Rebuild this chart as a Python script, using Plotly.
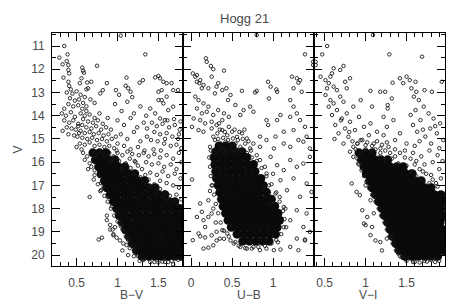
import plotly.graph_objects as go

# ---------------- data ----------------
title_text = "Hogg 21"
x_titles = ["B\u2212V", "U\u2212B", "V\u2212I"]
x_ranges = [[0.2, 1.8], [-0.1, 1.5], [0.37, 1.97]]
x_tickvals = [[0.5, 1, 1.5], [0, 0.5, 1], [0.5, 1, 1.5]]
x_ticktext = [["0.5", "1", "1.5"], ["0", "0.5", "1"], ["0.5", "1", "1.5"]]
v_range = [20.47, 10.44]
v_ticks = [11, 12, 13, 14, 15, 16, 17, 18, 19, 20]

# B-V panel: scattered stars (B-V, V)
bv_field = [
    (1.04, 10.55), (0.35, 11.0), (0.29, 11.5), (0.39, 11.36), (0.33, 11.79), (0.38, 11.65), (0.40, 11.82),
    (0.40, 12.03), (0.41, 12.18), (0.75, 11.85), (1.34, 11.36), (0.57, 11.93), (0.58, 12.06), (0.59, 12.15),
    (0.34, 12.36), (0.40, 12.54), (0.41, 12.72), (0.43, 12.87), (0.56, 12.39), (0.54, 12.6), (0.63, 12.57),
    (0.68, 12.54), (0.64, 12.82), (0.62, 12.87), (0.87, 12.6), (0.82, 12.9), (0.79, 13.04), (1.11, 12.36),
    (1.10, 12.71), (1.13, 12.82), (1.16, 12.97), (1.27, 12.58), (1.31, 12.47), (1.46, 12.35), (1.50, 12.29),
    (1.52, 12.39), (1.56, 12.54), (1.60, 12.6), (1.66, 12.6), (1.50, 12.97), (1.54, 12.9), (1.60, 13.18),
    (1.68, 12.9), (1.74, 12.9), (1.50, 13.33), (1.54, 13.33), (1.56, 13.47), (1.40, 13.69), (1.46, 13.9),
    (1.52, 14.12), (1.58, 14.19), (1.62, 13.76), (1.68, 13.61),
    (1.42, 14.3), (1.48, 14.45), (1.55, 14.35), (1.63, 14.5), (1.70, 14.4), (1.76, 14.6), (1.45, 14.7),
    (1.52, 14.8), (1.60, 14.75), (1.67, 14.9), (1.74, 15.0), (1.41, 15.05), (1.49, 15.1), (1.57, 15.2),
    (1.65, 15.3), (1.72, 15.25), (1.78, 15.4), (1.44, 15.45), (1.53, 15.5), (1.61, 14.2), (1.69, 14.15),
    (1.77, 14.25), (1.36, 14.55), (1.58, 15.0), (1.75, 14.8),
    (0.38, 13.0), (0.45, 13.05), (0.50, 12.95), (0.55, 13.1), (0.60, 13.2), (0.42, 13.25), (0.48, 13.35),
    (0.53, 13.3), (0.58, 13.45), (0.40, 13.5), (0.46, 13.6), (0.52, 13.55), (0.57, 13.7), (0.62, 13.6),
    (0.35, 13.7), (0.67, 13.3), (0.72, 13.45),
    (0.32, 13.9), (0.37, 14.0), (0.43, 13.85), (0.48, 14.05), (0.35, 14.2), (0.41, 14.3), (0.46, 14.2),
    (0.52, 14.35), (0.38, 14.5), (0.44, 14.55), (0.49, 14.6), (0.33, 14.65), (0.40, 14.8), (0.47, 14.85),
    (0.53, 14.75),
    (0.55, 13.9), (0.60, 14.0), (0.66, 13.95), (0.72, 14.1), (0.58, 14.15), (0.64, 14.25), (0.70, 14.3),
    (0.76, 14.2), (0.82, 14.35), (0.52, 14.45), (0.57, 14.4), (0.62, 14.5), (0.68, 14.55), (0.74, 14.45),
    (0.80, 14.6), (0.86, 14.5), (0.55, 14.65), (0.60, 14.75), (0.66, 14.7), (0.71, 14.8), (0.77, 14.75),
    (0.83, 14.85), (0.89, 14.8), (0.51, 14.9), (0.57, 14.95), (0.63, 15.0), (0.69, 14.95), (0.75, 15.05),
    (0.81, 15.0), (0.87, 15.1), (0.93, 15.0), (0.54, 15.2), (0.60, 15.25), (0.66, 15.15), (0.72, 15.3),
    (0.78, 15.25), (0.84, 15.35), (0.90, 15.3), (0.96, 15.4), (1.00, 15.2), (0.56, 15.45), (0.50, 15.35),
    (0.62, 13.8), (0.78, 13.9), (0.88, 14.1), (0.92, 14.6), (0.98, 14.9),
    (0.97, 13.5), (1.05, 13.8), (1.12, 13.4), (1.20, 13.9), (1.28, 13.6), (1.35, 14.0), (1.00, 14.2),
    (1.08, 14.4), (1.16, 14.1), (1.24, 14.5), (1.32, 14.3), (1.04, 14.8), (1.12, 15.0), (1.20, 14.7),
    (1.28, 15.1), (1.36, 14.9), (1.08, 15.3), (1.16, 15.45), (1.25, 15.35), (1.33, 15.5), (1.02, 13.1),
    (1.18, 13.2), (0.98, 12.9),
    (1.32, 15.6), (1.38, 15.75), (1.45, 15.65), (1.52, 15.8), (1.60, 15.7), (1.68, 15.85), (1.75, 15.6),
    (1.35, 16.0), (1.42, 16.1), (1.50, 16.05), (1.57, 16.2), (1.65, 16.1), (1.72, 16.3), (1.78, 16.0),
    (1.40, 16.45), (1.48, 16.55), (1.55, 16.4), (1.62, 16.6), (1.70, 16.5), (1.77, 16.7), (1.52, 16.8),
    (1.60, 16.9), (1.68, 17.0), (1.75, 17.1), (1.72, 17.4), (1.78, 17.6), (1.26, 15.7), (1.22, 16.0),
    (0.64, 16.3), (0.72, 16.56), (0.78, 16.6), (0.66, 17.5), (0.79, 17.25), (0.83, 17.06), (0.87, 18.3),
    (0.87, 18.5), (0.91, 18.7), (0.94, 18.9), (0.97, 18.8), (0.91, 18.9), (0.95, 19.1), (0.77, 19.33),
    (0.81, 19.25), (0.95, 19.15), (0.99, 19.25), (1.03, 19.37), (1.07, 19.5), (1.11, 19.57), (1.13, 19.36),
    (1.06, 19.8), (1.13, 20.0), (1.27, 20.25), (1.31, 20.2), (1.68, 20.4), (1.00, 18.2), (0.93, 17.9),
    (0.88, 17.5), (0.80, 16.9), (1.02, 18.6), (1.06, 18.9), (1.10, 19.2), (1.15, 19.7), (1.20, 20.05),
    (1.45, 20.3), (1.55, 20.28), (1.62, 20.3),
    (0.58, 15.6), (0.63, 15.75), (0.60, 15.9), (0.66, 16.05), (0.70, 15.55), (0.74, 15.7), (0.79, 15.6),
    (0.84, 15.75), (0.90, 15.6), (0.95, 15.75), (1.00, 15.6), (1.06, 15.7), (1.12, 15.55), (1.18, 15.65),
    (0.68, 16.2), (0.72, 16.35), (1.15, 15.85), (1.21, 15.95), (1.25, 16.15), (1.30, 16.3), (1.34, 16.55),
    (1.38, 16.75), (1.45, 16.95), (1.52, 17.15), (1.58, 17.3), (1.64, 17.45), (1.70, 17.7), (0.71, 16.75),
    (0.76, 16.95), (0.80, 17.2), (0.84, 17.45), (0.88, 17.7), (0.92, 18.0), (0.96, 18.3), (1.00, 18.55),
    (1.04, 18.75), (1.08, 19.0), (1.12, 19.25), (1.16, 19.5), (1.20, 19.8), (1.25, 20.05), (1.32, 20.2),
    (1.40, 20.3), (1.50, 20.32), (1.58, 20.3), (1.66, 20.25), (1.74, 20.2),
    (1.02, 15.95), (1.10, 16.05), (1.05, 16.3), (1.16, 16.25), (1.20, 16.5), (1.28, 16.65), (1.32, 16.9),
    (1.40, 17.05), (1.47, 17.25), (1.55, 17.5), (1.62, 17.65), (0.99, 15.5), (0.92, 15.95),
]

# B-V panel: saturated core of the main sequence, rows of (V, [B-V ...])
bv_core = [
    (15.6, [0.70, 0.78, 0.86]),
    (15.9, [0.73, 0.81, 0.89, 0.97]),
    (16.2, [0.77, 0.85, 0.93, 1.01, 1.09]),
    (16.5, [0.80, 0.88, 0.96, 1.04, 1.13, 1.21]),
    (16.8, [0.84, 0.92, 1.00, 1.08, 1.17, 1.25, 1.33]),
    (17.1, [0.87, 0.95, 1.04, 1.12, 1.21, 1.29, 1.38, 1.46]),
    (17.4, [0.91, 0.99, 1.08, 1.16, 1.25, 1.33, 1.42, 1.50, 1.58]),
    (17.7, [0.95, 1.03, 1.12, 1.20, 1.29, 1.37, 1.46, 1.54, 1.63, 1.70]),
    (18.0, [0.99, 1.07, 1.16, 1.24, 1.33, 1.42, 1.50, 1.59, 1.68, 1.76]),
    (18.3, [1.02, 1.10, 1.19, 1.27, 1.36, 1.45, 1.53, 1.62, 1.71, 1.79]),
    (18.6, [1.06, 1.14, 1.23, 1.31, 1.40, 1.49, 1.57, 1.66, 1.75, 1.80]),
    (18.9, [1.10, 1.18, 1.27, 1.35, 1.44, 1.53, 1.61, 1.70, 1.78]),
    (19.2, [1.14, 1.22, 1.31, 1.39, 1.48, 1.57, 1.65, 1.74, 1.80]),
    (19.5, [1.18, 1.26, 1.35, 1.43, 1.52, 1.61, 1.69, 1.78]),
    (19.8, [1.23, 1.31, 1.39, 1.47, 1.56, 1.65, 1.73, 1.80]),
    (20.05, [1.30, 1.38, 1.46, 1.54, 1.62, 1.70, 1.78]),
]

# U-B panel: scattered stars (U-B, V)
ub_field = [
    (0.80, 10.53), (0.18, 11.53), (0.19, 11.68), (0.24, 11.86), (0.27, 12.0), (0.40, 12.06),
    (0.02, 12.18), (0.05, 12.32), (0.07, 12.54), (0.10, 12.6), (0.13, 12.82),
    (0.33, 12.6), (0.38, 12.9), (0.43, 12.82), (0.45, 13.33), (0.48, 13.11),
    (0.62, 12.93), (0.80, 12.93), (0.78, 13.0),
    (0.94, 12.54), (0.97, 12.75), (1.04, 12.87), (1.05, 12.97), (0.95, 13.26),
    (1.23, 12.32), (1.29, 12.39), (1.33, 12.47), (1.25, 12.82), (1.35, 12.97), (1.31, 12.58),
    (1.39, 11.36), (1.49, 11.68), (1.49, 11.82),
    (1.21, 13.33), (1.25, 13.61), (1.29, 13.9), (1.21, 14.05), (1.33, 14.19), (1.39, 14.48), (1.25, 14.62),
    (1.41, 14.9), (1.31, 15.05),
    (0.92, 14.19), (0.94, 14.4), (1.05, 14.19), (1.09, 13.97), (1.13, 14.69), (1.03, 14.9), (0.84, 14.9),
    (0.64, 13.76), (0.72, 13.61), (0.76, 13.83), (0.60, 13.97), (0.54, 13.54),
    (0.05, 13.18), (0.09, 13.33), (0.15, 13.47), (0.21, 13.61), (0.07, 13.69), (0.13, 13.9), (0.19, 13.83),
    (0.27, 13.97), (0.33, 13.76), (0.40, 13.9), (0.03, 14.12), (0.11, 14.19), (0.17, 14.33), (0.25, 14.26),
    (0.31, 14.4), (0.38, 14.19), (0.46, 14.05), (0.01, 14.48), (0.09, 14.62), (0.15, 14.69),
    (0.07, 12.25), (0.11, 12.47), (0.15, 12.68), (0.21, 12.82), (0.29, 13.04), (0.25, 12.32), (0.31, 12.75),
    (0.25, 14.55), (0.32, 14.76), (0.38, 14.62), (0.44, 14.84), (0.50, 14.69), (0.56, 14.91), (0.62, 14.76),
    (0.68, 14.98), (0.29, 15.05), (0.36, 15.2), (0.42, 15.12), (0.48, 15.27), (0.54, 15.2), (0.60, 15.34),
    (0.66, 15.2), (0.72, 15.41), (0.23, 15.34), (0.40, 15.41), (0.52, 15.48), (0.46, 14.48), (0.34, 14.33),
    (0.76, 15.2), (0.84, 15.34), (0.92, 15.05), (1.01, 15.41), (1.13, 15.2), (1.21, 15.34), (1.37, 15.12),
    (1.45, 15.41),
    (0.84, 15.91), (0.97, 15.77), (1.05, 16.13), (1.13, 16.34), (1.21, 15.91), (1.29, 16.2), (1.37, 16.06),
    (1.45, 15.77), (0.92, 16.49), (1.09, 16.78), (1.25, 16.7), (1.41, 16.92), (0.88, 17.06), (1.03, 17.35),
    (1.17, 17.21), (1.33, 17.49), (1.47, 17.28), (0.97, 17.78), (1.13, 17.93), (1.29, 18.07), (1.41, 18.21),
    (1.21, 18.5), (1.37, 18.79), (1.45, 19.0), (1.29, 19.29), (1.39, 19.37), (1.21, 19.65), (1.31, 19.79),
    (0.80, 15.7), (0.90, 16.2), (1.00, 16.5), (0.95, 17.0), (1.08, 17.5), (1.15, 18.0), (1.16, 18.8),
    (0.01, 16.75), (0.07, 18.36), (0.11, 17.78), (0.13, 18.14), (0.15, 18.5), (0.17, 18.79), (0.21, 18.36),
    (0.25, 18.21), (0.27, 18.0),
    (0.09, 19.07), (0.11, 19.19), (0.17, 19.24), (0.02, 19.36), (0.15, 19.72), (0.21, 19.68), (0.27, 19.58),
    (0.31, 19.37), (0.35, 19.29), (0.25, 19.15), (0.31, 19.0), (0.38, 18.93), (0.44, 19.07), (0.48, 19.37),
    (0.54, 19.44),
    (0.60, 19.65), (0.68, 19.72), (0.76, 19.65), (0.84, 19.79), (0.92, 19.72), (1.01, 19.79), (1.09, 19.76),
    (1.39, 19.33), (0.23, 17.24), (0.21, 17.64), (0.25, 17.0), (0.30, 18.6), (0.40, 19.3), (1.06, 19.45),
    (0.24, 15.5), (0.30, 15.6), (0.36, 15.45), (0.42, 15.6), (0.48, 15.5), (0.56, 15.62), (0.62, 15.5),
    (0.68, 15.6), (0.73, 15.5), (0.27, 14.9), (0.33, 15.0), (0.39, 14.95), (0.45, 15.05), (0.51, 14.98),
    (0.57, 15.05), (0.63, 15.0), (0.70, 15.1), (0.35, 14.6), (0.41, 14.7), (0.53, 14.6), (0.59, 14.7),
    (0.65, 14.6), (0.22, 15.8), (0.23, 16.2), (0.24, 16.6), (0.26, 17.0), (0.28, 17.4), (0.30, 17.8),
    (0.33, 18.2), (0.36, 18.6), (0.40, 18.95), (0.46, 19.2), (0.52, 19.5), (0.58, 19.6), (0.66, 19.7),
    (0.74, 19.72), (0.82, 19.65), (0.90, 19.6), (0.98, 19.5), (1.04, 19.35), (1.10, 19.1), (1.13, 18.8),
    (1.14, 18.45), (1.12, 18.1), (1.08, 17.7), (1.04, 17.3), (0.98, 16.95), (0.92, 16.6), (0.86, 16.25),
    (0.80, 15.95), (0.74, 15.8),
]

# U-B panel core rows (V, [U-B ...])
ub_core = [
    (15.3, [0.34, 0.42, 0.50]),
    (15.55, [0.30, 0.38, 0.46, 0.54, 0.62]),
    (15.8, [0.28, 0.36, 0.44, 0.52, 0.60, 0.68]),
    (16.1, [0.29, 0.37, 0.45, 0.53, 0.61, 0.69, 0.76]),
    (16.4, [0.30, 0.38, 0.46, 0.54, 0.62, 0.70, 0.78]),
    (16.7, [0.31, 0.39, 0.47, 0.55, 0.63, 0.71, 0.79, 0.85]),
    (17.0, [0.33, 0.41, 0.49, 0.57, 0.65, 0.73, 0.81, 0.88]),
    (17.3, [0.35, 0.43, 0.51, 0.59, 0.67, 0.75, 0.83, 0.92]),
    (17.6, [0.37, 0.45, 0.53, 0.61, 0.69, 0.77, 0.85, 0.93, 0.98]),
    (17.9, [0.39, 0.47, 0.55, 0.63, 0.71, 0.79, 0.87, 0.95, 1.02]),
    (18.2, [0.42, 0.50, 0.58, 0.66, 0.74, 0.82, 0.90, 0.98, 1.06]),
    (18.5, [0.45, 0.53, 0.61, 0.69, 0.77, 0.85, 0.93, 1.01, 1.08]),
    (18.8, [0.49, 0.57, 0.65, 0.73, 0.81, 0.89, 0.97, 1.05]),
    (19.1, [0.56, 0.64, 0.72, 0.80, 0.88, 0.96, 1.03]),
    (19.4, [0.63, 0.71, 0.79, 0.87, 0.95]),
]

# V-I panel: scattered stars (V-I, V)
vi_field = [
    (1.09, 10.53), (0.53, 11.0), (0.47, 11.36), (0.39, 11.68), (0.39, 11.82), (1.29, 11.36), (1.69, 11.46),
    (0.73, 11.86), (0.69, 12.03), (0.61, 11.96), (0.59, 12.18), (0.57, 12.32), (0.81, 12.39),
    (0.45, 12.32), (0.51, 12.47), (0.55, 12.6), (0.53, 12.82), (0.61, 12.75), (0.65, 12.9), (0.77, 12.82),
    (0.75, 12.54), (1.06, 12.93), (1.18, 12.97), (1.24, 12.97), (1.33, 12.58), (1.32, 13.26), (1.27, 13.54),
    (1.27, 13.69), (1.42, 12.39), (1.50, 12.32), (1.54, 12.47), (1.61, 12.54), (1.46, 12.6), (1.56, 12.82),
    (1.62, 12.97), (1.72, 12.9), (1.81, 12.97), (1.93, 12.54),
    (1.59, 13.18), (1.65, 13.33), (1.71, 13.61), (1.61, 13.76), (1.77, 13.9), (1.83, 14.12), (1.91, 14.33),
    (1.67, 14.19), (1.55, 13.97), (1.79, 14.55), (1.87, 14.76), (1.95, 15.05), (1.73, 14.9), (1.63, 14.69),
    (1.58, 14.4), (1.70, 14.6), (1.85, 14.45), (1.66, 15.1), (1.80, 15.2), (1.90, 15.4), (1.60, 15.3),
    (0.51, 13.11), (0.57, 13.33), (0.61, 13.47), (0.69, 13.18), (0.73, 13.4), (0.55, 13.61), (0.65, 13.76),
    (0.77, 13.9), (0.85, 13.61), (0.59, 13.97), (0.71, 14.12), (0.81, 14.26), (0.92, 14.05), (0.63, 14.4),
    (0.75, 14.55), (0.87, 14.62), (0.98, 14.48), (0.67, 14.76), (0.79, 14.91), (0.94, 15.05), (1.04, 14.84),
    (0.73, 15.2), (0.85, 15.34), (1.00, 15.27), (1.10, 15.2), (1.18, 15.41), (1.28, 15.34), (1.36, 15.05),
    (1.22, 14.84), (1.14, 14.69), (1.06, 14.33), (1.26, 14.48), (0.94, 13.33), (1.08, 13.61), (1.22, 14.05),
    (1.34, 14.19), (1.42, 14.76), (1.50, 15.2), (0.70, 14.2), (0.80, 14.7), (0.90, 15.2), (0.62, 15.0),
    (1.48, 15.5), (1.58, 15.6), (1.68, 15.75), (1.78, 15.5), (1.88, 15.7), (1.94, 15.95), (1.62, 15.95),
    (1.72, 16.1), (1.82, 16.0), (1.90, 16.3), (1.70, 16.4), (1.80, 16.55), (1.92, 16.7), (1.86, 16.9),
    (0.83, 16.92), (0.89, 17.28), (0.93, 17.42), (0.98, 18.64), (1.00, 18.71), (1.08, 18.79), (1.06, 19.14),
    (1.12, 19.37), (1.18, 19.44), (1.26, 19.29), (1.32, 19.22), (1.40, 19.94), (1.44, 20.09), (1.50, 20.15),
    (0.81, 15.55), (0.85, 15.77), (0.91, 16.06), (0.96, 18.07), (1.02, 18.36), (1.06, 17.64), (1.00, 17.0),
    (1.10, 18.2), (1.20, 19.8), (1.60, 20.3), (1.75, 20.28), (1.85, 20.3),
    (0.84, 15.1), (0.90, 15.2), (0.96, 15.05), (1.02, 15.15), (1.08, 15.3), (1.14, 15.1), (1.20, 15.25),
    (1.26, 15.15), (0.88, 15.45), (0.94, 15.6), (1.00, 15.45), (1.06, 15.55), (1.12, 15.45), (1.18, 15.6),
    (1.24, 15.5), (1.30, 15.6), (1.36, 15.45), (1.42, 15.6), (1.48, 15.8), (1.55, 15.85), (1.60, 16.1),
    (1.66, 16.3), (1.74, 16.5), (1.82, 16.75), (0.90, 15.85), (0.92, 16.1), (0.95, 16.35), (0.98, 16.6),
    (1.01, 16.85), (1.04, 17.1), (1.08, 17.4), (1.12, 17.7), (1.16, 18.0), (1.19, 18.3), (1.23, 18.6),
    (1.26, 18.9), (1.29, 19.2), (1.33, 19.5), (1.37, 19.8), (1.42, 20.05), (1.50, 20.25), (1.58, 20.3),
    (1.66, 20.32), (1.72, 20.25), (1.80, 20.22), (1.90, 20.25),
    (1.16, 15.8), (1.24, 15.9), (1.32, 15.85), (1.40, 16.05), (1.50, 16.15), (1.55, 16.4), (1.62, 16.6),
    (1.70, 16.75), (1.78, 16.9), (1.88, 17.05), (1.36, 15.75),
]

# V-I panel core rows (V, [V-I ...])
vi_core = [
    (15.6, [0.92, 1.00, 1.08]),
    (15.9, [0.95, 1.03, 1.11, 1.19, 1.27]),
    (16.2, [0.98, 1.06, 1.14, 1.22, 1.30, 1.38, 1.46]),
    (16.5, [1.01, 1.09, 1.17, 1.25, 1.33, 1.41, 1.49, 1.57]),
    (16.8, [1.05, 1.12, 1.20, 1.28, 1.36, 1.44, 1.52, 1.60, 1.68]),
    (17.1, [1.08, 1.16, 1.24, 1.32, 1.40, 1.48, 1.56, 1.64, 1.72, 1.80]),
    (17.4, [1.12, 1.20, 1.28, 1.36, 1.44, 1.52, 1.60, 1.68, 1.76, 1.84, 1.92]),
    (17.7, [1.16, 1.24, 1.32, 1.40, 1.48, 1.56, 1.64, 1.72, 1.80, 1.88, 1.95]),
    (18.0, [1.20, 1.28, 1.36, 1.44, 1.52, 1.60, 1.68, 1.76, 1.84, 1.92]),
    (18.3, [1.23, 1.31, 1.39, 1.47, 1.55, 1.63, 1.71, 1.79, 1.87, 1.95]),
    (18.6, [1.27, 1.35, 1.43, 1.51, 1.59, 1.67, 1.75, 1.83, 1.91]),
    (18.9, [1.30, 1.38, 1.46, 1.54, 1.62, 1.70, 1.78, 1.86, 1.94]),
    (19.2, [1.33, 1.41, 1.49, 1.57, 1.65, 1.73, 1.81, 1.89, 1.96]),
    (19.5, [1.37, 1.45, 1.53, 1.61, 1.69, 1.77, 1.85, 1.93]),
    (19.8, [1.41, 1.49, 1.57, 1.65, 1.73, 1.81, 1.89, 1.95]),
    (20.05, [1.48, 1.56, 1.64, 1.72, 1.80, 1.88]),
]

# ---------------- figure ----------------
FONT = "Liberation Sans"
TXT = "#4a4a4a"

fig = go.Figure()


def split_pairs(pairs):
    return [p[0] for p in pairs], [p[1] for p in pairs]


def flatten_rows(rows):
    xs, ys = [], []
    for v, cs in rows:
        for c in cs:
            xs.append(c)
            ys.append(v)
    return xs, ys


panels = [(bv_field, bv_core), (ub_field, ub_core), (vi_field, vi_core)]
for i, (field, core) in enumerate(panels):
    xa = "x" if i == 0 else f"x{i + 1}"
    ya = "y" if i == 0 else f"y{i + 1}"
    cx, cy = flatten_rows(core)
    fig.add_trace(go.Scatter(
        x=cx, y=cy, xaxis=xa, yaxis=ya, mode="markers", hoverinfo="skip",
        marker=dict(symbol="circle", size=9, color="#0a0a0a", line=dict(width=0)),
        showlegend=False))
    fx, fy = split_pairs(field)
    fig.add_trace(go.Scatter(
        x=fx, y=fy, xaxis=xa, yaxis=ya, mode="markers", hoverinfo="skip",
        marker=dict(symbol="circle-open", size=3.5, color="#1a1a1a", line=dict(width=0.9)),
        showlegend=False))

# the page body has an 8 px margin, so the figure is sized to fit inside the window
domains = [[0, 1 / 3], [1 / 3, 2 / 3], [2 / 3, 1]]
layout = dict(
    width=450, height=296,
    margin=dict(l=44, r=13, t=25, b=38),
    paper_bgcolor="white", plot_bgcolor="white",
    font=dict(family=FONT, size=12, color=TXT),
    showlegend=False,
)
for i in range(3):
    key = "xaxis" if i == 0 else f"xaxis{i + 1}"
    layout[key] = dict(
        domain=domains[i], range=x_ranges[i], anchor="y" if i == 0 else f"y{i + 1}",
        tickmode="array", tickvals=x_tickvals[i], ticktext=x_ticktext[i],
        ticks="inside", ticklen=8, tickwidth=1, tickcolor="black",
        minor=dict(tickmode="linear", tick0=0, dtick=0.1, ticks="inside", ticklen=4,
                   tickwidth=1, tickcolor="black", showgrid=False),
        showline=True, linecolor="black", linewidth=1, mirror="ticks",
        showgrid=False, zeroline=False, automargin=False,
        tickfont=dict(family=FONT, size=12, color=TXT),
        ticklabelstandoff=6,
    )
    ykey = "yaxis" if i == 0 else f"yaxis{i + 1}"
    layout[ykey] = dict(
        domain=[0, 1], range=v_range, anchor="x" if i == 0 else f"x{i + 1}",
        tickmode="array", tickvals=v_ticks, ticktext=[str(t) for t in v_ticks],
        ticks="inside", ticklen=8, tickwidth=1, tickcolor="black",
        minor=dict(tickmode="linear", tick0=0, dtick=0.5, ticks="inside", ticklen=4,
                   tickwidth=1, tickcolor="black", showgrid=False),
        showline=True, linecolor="black", linewidth=1, mirror="ticks",
        showgrid=False, zeroline=False, automargin=False,
        showticklabels=(i == 0),
        tickfont=dict(family=FONT, size=12, color=TXT),
        ticklabelstandoff=4,
    )
    if i == 0:
        layout[ykey]["title"] = dict(text="V", font=dict(family=FONT, size=12, color=TXT), standoff=6)
    else:
        layout[ykey]["matches"] = "y"

fig.update_layout(**layout)
fig.add_annotation(text=title_text, xref="paper", yref="paper", x=0.49, y=1.0, yshift=15,
                   yanchor="middle", showarrow=False,
                   font=dict(family=FONT, size=13, color=TXT))
for i in range(3):
    fig.add_annotation(text=x_titles[i], xref="paper", yref="paper",
                       x=(domains[i][0] + domains[i][1]) / 2, y=0, yshift=-29,
                       yanchor="middle", showarrow=False,
                       font=dict(family=FONT, size=12, color=TXT))

fig.write_html("out.html")
